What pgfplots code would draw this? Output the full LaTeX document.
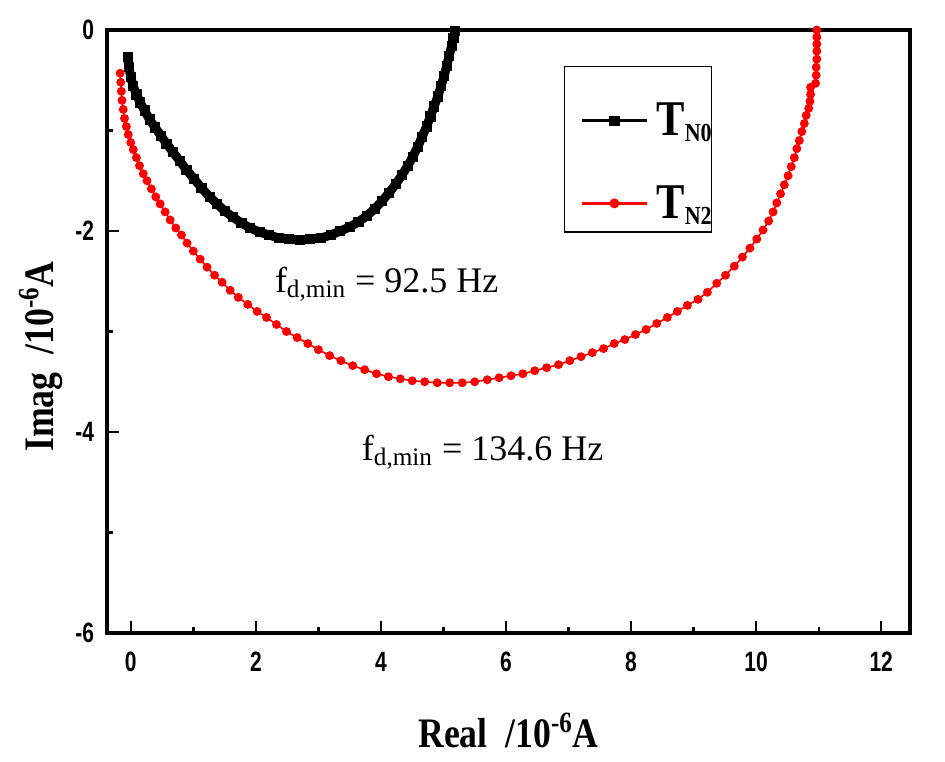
\documentclass[border=0pt]{standalone}
\usepackage{pgfplots}
\pgfplotsset{compat=1.18}
\usepackage{fontspec}
\setmainfont{Liberation Serif}
\newfontfamily\tickfont[FakeStretch=0.75]{Liberation Sans}
\newfontfamily\labfont[FakeStretch=0.85]{Liberation Serif}

\begin{document}
\begin{tikzpicture}
\useasboundingbox (-53.5pt,-64pt) rectangle (419pt,316.5pt);
\begin{axis}[
    scale only axis,
    width=401.5pt, height=301.5pt,
    xmin=-0.38, xmax=12.46,
    ymin=-6, ymax=0,
    axis line style={line width=1.6pt},
    tick pos=left,
    tick align=inside,
    major tick length=6pt, minor tick length=3pt,
    every tick/.style={line width=1.2pt, black},
    xtick={0,2,4,6,8,10,12},
    xticklabels={0,2,4,6,8,10,12},
    ytick={-6,-4,-2,0},
    yticklabels={-6,-4,-2,0},
    minor x tick num=1, minor y tick num=1,
    tick label style={font=\tickfont\bfseries\fontsize{14}{15}\selectfont},
    xticklabel style={yshift=-6pt},
    yticklabel style={xshift=-3pt},
    xlabel={\labfont\bfseries\fontsize{21}{24}\selectfont Real~~/10\textsuperscript{-6}A},
    ylabel={\labfont\bfseries\fontsize{21}{24}\selectfont Imag~~/10\textsuperscript{-6}A},
    xlabel style={at={(axis description cs:0.5,0)}, anchor=north, inner sep=0pt, yshift=-40pt},
    ylabel style={at={(axis description cs:-0.0548,0.4585)}, anchor=south, inner sep=0pt},
    legend style={at={(axis description cs:0.589,0.880)}, anchor=north west,
        draw=none, fill=none, inner sep=0pt, row sep=23.5pt, column sep=4pt,
        nodes={inner sep=0pt},
        font=\labfont\bfseries\fontsize{25}{26}\selectfont,
        cells={anchor=west}},
    legend image code/.code={
        \path[draw=none, fill=none] (0cm,-8pt) -- (0cm,2.4pt);
        \draw[mark repeat=2,mark phase=2,#1,line width=1.3pt]
        plot coordinates {(0cm,0cm)(0.575cm,0cm)(1.15cm,0cm)};},
]
\draw[line width=0.6pt] (rel axis cs:0.570,0.665) rectangle (rel axis cs:0.753,0.939);
\addplot[black, line width=4.5pt, line join=round, mark=square*, mark size=2.3pt,
         mark options={line width=0.4pt}]
coordinates {
(-0.05,-0.27)(-0.03,-0.37)(0.00,-0.47)(0.04,-0.56)(0.09,-0.64)(0.15,-0.72)
(0.22,-0.80)(0.30,-0.89)(0.39,-0.97)(0.48,-1.05)(0.57,-1.13)(0.67,-1.21)
(0.78,-1.30)(0.89,-1.39)(1.01,-1.48)(1.13,-1.57)(1.26,-1.66)(1.38,-1.73)
(1.50,-1.80)(1.63,-1.86)(1.77,-1.92)(1.91,-1.97)(2.06,-2.01)(2.21,-2.04)
(2.37,-2.07)(2.53,-2.08)(2.70,-2.09)(2.87,-2.08)(3.04,-2.07)(3.20,-2.04)
(3.35,-2.00)(3.50,-1.96)(3.64,-1.91)(3.77,-1.85)(3.90,-1.78)(4.02,-1.70)
(4.13,-1.62)(4.24,-1.53)(4.34,-1.44)(4.43,-1.35)(4.51,-1.26)(4.59,-1.16)
(4.66,-1.06)(4.73,-0.96)(4.79,-0.86)(4.85,-0.76)(4.91,-0.66)(4.96,-0.56)
(5.01,-0.46)(5.05,-0.36)(5.09,-0.26)(5.13,-0.16)(5.16,-0.08)(5.18,-0.01)
};
\addlegendentry{T\raisebox{-3pt}{\fontsize{13}{13}\selectfont N0}}
\addplot[red, line width=0.8pt, mark=*, mark size=1.8pt, mark options={fill=red}]
coordinates {
(-0.17,-0.43)(-0.16,-0.52)(-0.15,-0.61)(-0.14,-0.70)(-0.12,-0.79)(-0.10,-0.88)
(-0.07,-0.96)(-0.04,-1.04)(0.00,-1.12)(0.04,-1.19)(0.09,-1.27)(0.14,-1.35)
(0.20,-1.43)(0.26,-1.50)(0.33,-1.58)(0.40,-1.66)(0.47,-1.73)(0.55,-1.81)
(0.63,-1.89)(0.72,-1.97)(0.81,-2.04)(0.90,-2.12)(1.00,-2.20)(1.11,-2.28)
(1.22,-2.36)(1.34,-2.44)(1.46,-2.51)(1.59,-2.59)(1.72,-2.66)(1.87,-2.73)
(2.02,-2.80)(2.17,-2.86)(2.33,-2.93)(2.49,-3.00)(2.66,-3.06)(2.83,-3.12)
(3.00,-3.18)(3.18,-3.24)(3.36,-3.29)(3.55,-3.34)(3.74,-3.38)(3.93,-3.42)
(4.12,-3.45)(4.31,-3.47)(4.50,-3.49)(4.70,-3.50)(4.90,-3.51)(5.10,-3.51)
(5.30,-3.51)(5.50,-3.50)(5.70,-3.48)(5.89,-3.46)(6.08,-3.44)(6.27,-3.42)
(6.46,-3.39)(6.65,-3.36)(6.84,-3.33)(7.02,-3.29)(7.20,-3.25)(7.38,-3.21)
(7.56,-3.17)(7.73,-3.12)(7.90,-3.08)(8.07,-3.03)(8.24,-2.98)(8.41,-2.92)
(8.58,-2.86)(8.74,-2.80)(8.90,-2.74)(9.07,-2.68)(9.22,-2.61)(9.37,-2.52)
(9.51,-2.44)(9.65,-2.35)(9.78,-2.26)(9.90,-2.17)(10.01,-2.08)(10.11,-1.99)
(10.20,-1.90)(10.27,-1.81)(10.33,-1.72)(10.39,-1.63)(10.45,-1.54)(10.51,-1.45)
(10.56,-1.36)(10.61,-1.27)(10.65,-1.18)(10.69,-1.10)(10.73,-1.01)(10.77,-0.93)
(10.80,-0.85)(10.84,-0.78)(10.86,-0.71)(10.87,-0.64)(10.87,-0.57)
(10.95,-0.53)(10.96,-0.45)(10.96,-0.37)(10.97,-0.29)(10.97,-0.21)(10.97,-0.14)
(10.97,-0.07)(10.97,0.00)
};
\addlegendentry{T\raisebox{-3pt}{\fontsize{13}{13}\selectfont N2}}
\node[anchor=base west, inner sep=0pt, font=\fontsize{18}{20}\selectfont]
    at (axis cs:2.30,-2.61) {f\textsubscript{d,min} = 92.5 Hz};
\node[anchor=base west, inner sep=0pt, font=\fontsize{18}{20}\selectfont]
    at (axis cs:3.69,-4.28) {f\textsubscript{d,min} = 134.6 Hz};
\end{axis}
\end{tikzpicture}
\end{document}
